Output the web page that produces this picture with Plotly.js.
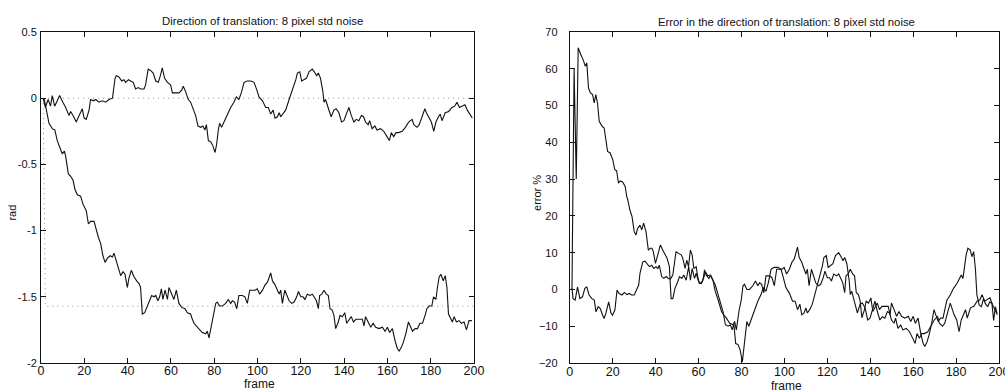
<!DOCTYPE html>
<html>
<head>
<meta charset="utf-8">
<script src="https://cdn.plot.ly/plotly-3.0.1.min.js"></script>
<style>
  html, body { margin: 0; padding: 0; background: #fff; }
  #chart { width: 1005px; height: 390px; }
</style>
</head>
<body>
<div id="chart"></div>
<script>
// Estimated direction of translation (rad) per frame: [frame, value]
const dirFirst = [[1,0],[2,-0.07],[3.3,-0.01],[4.4,-0.06],[5.2,0.02],[6.3,-0.06],[7.5,-0.02],[8.6,0.02],[10.1,-0.03],[11.4,-0.07],[12.9,-0.13],[13.7,-0.10],[14.8,-0.13],[16.3,-0.18],[17.6,-0.13],[18.3,-0.10],[19.1,-0.08],[19.9,-0.15],[20.9,-0.16],[22.2,-0.09],[22.9,-0.01],[24.2,-0.02],[25.3,-0.01],[26.8,-0.03],[28.3,-0.02],[29.9,-0.03],[31.4,-0.01],[33,0.00],[34.2,0.15],[34.8,0.17],[36,0.16],[37.3,0.13],[38.3,0.14],[39.1,0.12],[40.4,0.14],[41.4,0.13],[42.6,0.12],[43.7,0.07],[44.9,0.08],[46,0.07],[47.6,0.07],[48.3,0.10],[49.5,0.22],[50.6,0.21],[51.8,0.19],[53,0.13],[54.2,0.12],[55.3,0.18],[56,0.23],[57.1,0.15],[58.4,0.12],[59.9,0.10],[60.7,0.04],[62.2,0.04],[63.7,0.04],[65,0.06],[65.7,0.09],[66.8,0.05],[68,-0.01],[69.1,-0.03],[70.4,-0.09],[71.4,-0.13],[72.5,-0.21],[73.8,-0.22],[74.8,-0.21],[75.7,-0.24],[76.4,-0.20],[77.3,-0.32],[78.4,-0.33],[79.4,-0.36],[80.4,-0.41],[81.1,-0.35],[81.9,-0.24],[82.5,-0.19],[83.4,-0.22],[84.5,-0.18],[86,-0.12],[87.6,-0.07],[89.1,-0.03],[90.2,0.01],[91.4,-0.01],[92.5,0.04],[93.8,0.12],[95.3,0.13],[96.9,0.13],[98.4,0.12],[99.5,0.07],[100.7,0.01],[102.3,-0.02],[103.8,-0.07],[105,-0.07],[106.1,-0.12],[107.2,-0.09],[108.1,-0.15],[109.2,-0.14],[110,-0.11],[110.7,-0.14],[111.8,-0.12],[113,-0.09],[114.6,-0.01],[116.1,0.06],[117.7,0.14],[118.4,0.19],[119.5,0.20],[120.4,0.13],[121.5,0.14],[122.6,0.15],[123.8,0.20],[125.3,0.22],[126.6,0.19],[127.3,0.17],[128.1,0.19],[129.1,0.15],[130.2,0.05],[130.7,-0.03],[131.4,-0.01],[132.2,-0.05],[132.9,-0.09],[134,-0.14],[135.3,-0.09],[136.3,-0.08],[137.6,-0.11],[138.8,-0.18],[139.9,-0.17],[141.1,-0.11],[142.2,-0.07],[143.3,-0.13],[144.5,-0.18],[145.6,-0.16],[146.8,-0.17],[148,-0.13],[149,-0.14],[149.9,-0.18],[151.1,-0.20],[151.8,-0.17],[152.9,-0.23],[154.2,-0.21],[155.2,-0.24],[156.8,-0.23],[158.3,-0.25],[159.8,-0.29],[160.9,-0.32],[161.8,-0.26],[162.9,-0.29],[164,-0.26],[165.2,-0.26],[166.8,-0.25],[168.3,-0.22],[169.8,-0.18],[171.4,-0.16],[172.2,-0.20],[173.7,-0.22],[174.7,-0.20],[176,-0.14],[177.3,-0.08],[178,-0.11],[179.1,-0.15],[180.3,-0.18],[181.4,-0.25],[182.4,-0.18],[183.6,-0.14],[184.4,-0.12],[185.2,-0.17],[186.7,-0.11],[188.3,-0.10],[189.8,-0.07],[191.1,-0.06],[192.1,-0.03],[193.3,-0.07],[194.5,-0.06],[195.8,-0.05],[196.9,-0.09],[198,-0.12],[199.2,-0.15]];

const dirSecond = [[1.4,0],[2.6,-0.11],[3.7,-0.19],[5.2,-0.23],[6.4,-0.24],[7.5,-0.32],[8.6,-0.37],[9.8,-0.42],[10.8,-0.40],[11.4,-0.44],[12.6,-0.57],[13.7,-0.59],[14.8,-0.62],[15.7,-0.69],[16.8,-0.73],[18.3,-0.74],[19.4,-0.80],[20.9,-0.85],[21.9,-0.95],[22.9,-0.93],[24.5,-0.93],[25.3,-0.98],[26.5,-1.05],[27.6,-1.10],[28.6,-1.19],[29.6,-1.24],[30.6,-1.21],[31.9,-1.19],[33,-1.20],[33.7,-1.17],[34.5,-1.21],[35.7,-1.28],[36.8,-1.34],[37.9,-1.31],[38.8,-1.33],[39.9,-1.43],[40.6,-1.36],[41.7,-1.30],[43,-1.35],[44.2,-1.38],[45.3,-1.40],[46,-1.43],[46.8,-1.63],[47.9,-1.62],[49.1,-1.57],[50.2,-1.52],[51.1,-1.49],[52.2,-1.50],[53,-1.49],[54,-1.53],[54.8,-1.50],[55.6,-1.44],[56.3,-1.52],[57.3,-1.45],[58.4,-1.52],[59.1,-1.43],[60.4,-1.48],[61.4,-1.52],[62.5,-1.45],[63.7,-1.55],[65,-1.58],[66.5,-1.59],[67.6,-1.62],[69.1,-1.63],[69.9,-1.67],[70.7,-1.70],[71.7,-1.72],[73,-1.74],[74.5,-1.77],[76.1,-1.78],[76.8,-1.76],[77.6,-1.81],[78.8,-1.70],[79.9,-1.63],[80.7,-1.55],[81.4,-1.54],[82.5,-1.57],[83.7,-1.57],[85.3,-1.55],[86.5,-1.52],[87.6,-1.55],[88.4,-1.53],[89.4,-1.54],[90.4,-1.59],[91.4,-1.49],[93,-1.49],[94.2,-1.50],[95.3,-1.55],[96.4,-1.45],[97.6,-1.45],[98.9,-1.45],[99.9,-1.44],[101,-1.48],[102.3,-1.45],[103.5,-1.41],[104.6,-1.39],[105.3,-1.36],[106.1,-1.32],[106.9,-1.38],[108.1,-1.41],[109.2,-1.45],[110,-1.48],[110.7,-1.45],[111.5,-1.55],[112.6,-1.45],[113.5,-1.49],[114.6,-1.53],[115.8,-1.55],[116.9,-1.54],[118.1,-1.50],[118.9,-1.46],[120,-1.50],[121,-1.50],[121.9,-1.52],[123,-1.48],[124.3,-1.49],[125.3,-1.48],[126.1,-1.50],[127.2,-1.53],[128.1,-1.59],[128.7,-1.49],[129.7,-1.48],[130.7,-1.45],[131.8,-1.48],[132.7,-1.49],[133.5,-1.59],[134.5,-1.60],[135.3,-1.64],[136.1,-1.74],[137.3,-1.69],[138.1,-1.64],[139.2,-1.65],[140.3,-1.62],[141.2,-1.70],[142.2,-1.68],[143.3,-1.65],[144.3,-1.69],[145.4,-1.67],[146.8,-1.67],[148.4,-1.67],[149.2,-1.72],[149.9,-1.65],[151.1,-1.69],[152.3,-1.73],[153.4,-1.70],[154.6,-1.73],[156.1,-1.74],[157.7,-1.73],[158.9,-1.76],[160,-1.73],[161,-1.77],[162.3,-1.74],[163.5,-1.83],[164.6,-1.89],[165.4,-1.91],[166.5,-1.88],[167.4,-1.84],[168.5,-1.78],[169.7,-1.69],[170.8,-1.73],[171.6,-1.76],[172.8,-1.74],[173.9,-1.74],[175,-1.70],[176.2,-1.70],[177.4,-1.64],[178.2,-1.59],[179.3,-1.57],[180.5,-1.57],[181.3,-1.50],[182.4,-1.52],[183.1,-1.43],[183.9,-1.35],[184.7,-1.33],[185.8,-1.38],[186.7,-1.34],[187.5,-1.43],[188.2,-1.63],[189.3,-1.67],[190,-1.69],[190.8,-1.65],[191.9,-1.69],[193.1,-1.68],[194.2,-1.70],[195.4,-1.69],[196.5,-1.75],[197.7,-1.68],[199,-1.68]];

// True directions (dotted references)
const trueFirst = [[1,0],[200,0]];
const trueSecond = [[1,0],[2,-1.5708],[200,-1.5708]];

// Error in the direction of translation (%) per frame: [frame, value]
const errFirst = [[1,0.3],[1.5,-2.5],[2.5,-2.9],[3.6,0.7],[4.7,-2.5],[5.9,-2],[7,0.3],[7.9,0.7],[9,-1.5],[10.3,-2.5],[11.4,-2.9],[12.2,-6.1],[13.2,-4.7],[14.2,-5.2],[15.3,-7],[16,-7.9],[16.8,-6.5],[18.1,-3.4],[19.2,-6.5],[19.9,-7],[21,-5.6],[22,-0.2],[23,-1.1],[24.3,-1.5],[25.4,-0.8],[26.6,-1.4],[27.7,-1.1],[28.8,-1.5],[30,-1.5],[31.2,-0.2],[32.1,1.2],[32.7,4.4],[34,7.5],[35,7.7],[36,7.1],[37.1,6.2],[38.2,6.6],[39.1,5.7],[40.2,6.2],[41,5.7],[41.7,6.6],[42.8,3.5],[43.8,3],[44.9,3.5],[45.9,3],[46.9,2.8],[48,3.9],[48.8,7.7],[49.5,10.3],[50.6,9.8],[51.9,9.4],[52.6,8.6],[53.7,5.7],[54.5,8],[55.3,6.2],[56.2,10.7],[57,9.4],[57.8,5.7],[58.9,6.2],[59.6,3.5],[60.4,1.6],[61.2,1.6],[62,2.5],[62.8,5.3],[63.5,3.9],[64.8,3],[65.6,3.9],[66.7,2.5],[67.8,1.2],[69.1,-1.4],[70.4,-4],[71.4,-6],[72.5,-9.6],[73.8,-10],[74.8,-9.6],[75.7,-11],[76.4,-9.2],[77.3,-14.7],[78.4,-15],[79.4,-16.5],[80.4,-19.7],[81.1,-16],[81.9,-11],[82.5,-8.7],[83.4,-10],[84.5,-8.3],[86,-5.5],[87.6,-3.2],[89.1,-1.4],[90.2,0.5],[91.4,-0.5],[92.5,1.8],[93.8,5.5],[95.3,6],[96.9,6],[98.4,5.5],[99.5,3.2],[100.7,0.5],[102.3,-1],[103.8,-3.2],[105,-3.2],[106.1,-5.5],[107.2,-4],[108.1,-6.9],[109.2,-6.4],[110,-5],[110.7,-6.4],[111.8,-5.5],[113,-4],[114.6,-0.5],[116.1,2.8],[117.7,6.4],[118.4,8.7],[119.5,9.2],[120.4,6],[121.5,6.4],[122.6,7],[123.8,9.2],[125.3,10],[126.6,8.7],[127.3,7.8],[128.1,8.7],[129.1,7],[130.2,2.3],[130.7,-1.4],[131.4,-0.5],[132.2,-2.3],[132.9,-4],[134,-6.4],[135.3,-4],[136.3,-3.7],[137.6,-5],[138.8,-8.3],[139.9,-7.8],[141.1,-5],[142.2,-3.2],[143.3,-6],[144.5,-8.3],[145.6,-7.4],[146.8,-7.8],[148,-6],[149,-6.4],[149.9,-8.3],[151.1,-9.2],[151.8,-7.8],[152.9,-10.6],[154.2,-9.7],[155.2,-11],[156.8,-10.6],[158.3,-11.5],[159.8,-13.3],[160.9,-14.7],[161.8,-12],[162.9,-13.3],[164,-12],[165.2,-12],[166.8,-11.5],[168.3,-10],[169.8,-8.3],[171.4,-7.4],[172.2,-9.2],[173.7,-10],[174.7,-9.2],[176,-6.4],[177.3,-3.7],[178,-5],[179.1,-6.9],[180.3,-8.3],[181.4,-11.5],[182.4,-8.3],[183.6,-6.4],[184.4,-5.5],[185.2,-7.8],[186.7,-5],[188.3,-4.6],[189.8,-3.2],[191.1,-2.8],[192.1,-1.4],[193.3,-3.2],[194.5,-2.8],[195.8,-2.3],[196.9,-4],[198,-5.5],[199.2,-6.9]];

const errSecond = [[1,0],[2,60],[3,30],[3.9,65.7],[5.1,63.9],[6.2,62.5],[7.2,60.7],[7.9,61.6],[8.7,54.8],[9.5,53.5],[10.6,53],[11.4,50.7],[12.1,53],[12.9,50.7],[13.7,45.7],[15,44.4],[16,43.9],[16.8,40.3],[17.6,37.5],[18.8,37.1],[20,35.3],[21,32.5],[21.8,32.3],[22.7,28.9],[23.5,29.5],[24.6,29.2],[25.8,28],[26.5,25.3],[27,24.4],[28,21.6],[29,19.8],[30,15.7],[30.8,14.8],[31.6,16.6],[32.7,17.5],[33.5,16.2],[34.4,18],[35.5,15.7],[36.6,10.7],[37.5,11.2],[38.3,11.2],[38.9,10.3],[39.9,7.1],[41,9.4],[42.2,12.1],[43.3,10.7],[44.4,9.5],[45.3,8.5],[46.4,6.2],[47.2,-2.5],[48,-2.5],[49,0.3],[50.3,2.1],[51.1,3.5],[52.2,3],[53.1,3.9],[54.2,2.5],[55.4,6.2],[56.2,2.5],[57,5.7],[58.1,3],[58.9,4.4],[60,2.1],[61.2,1.6],[62.3,3],[63.2,4.8],[64.3,3.7],[65.4,3.9],[66.7,2.5],[67.8,-0.6],[69.1,-2.8],[69.9,-4.6],[70.7,-6],[71.7,-6.9],[73,-7.8],[74.5,-9.2],[76.1,-9.6],[76.8,-8.7],[77.6,-11],[78.8,-6],[79.9,-2.8],[80.7,1],[81.4,1.4],[82.5,0],[83.7,0],[85.3,1],[86.5,2.3],[87.6,1],[88.4,1.8],[89.4,1.4],[90.4,-0.9],[91.4,3.7],[93,3.7],[94.2,3.2],[95.3,1],[96.4,5.5],[97.6,5.5],[98.9,5.5],[99.9,6],[101,4.2],[102.3,5.5],[103.5,7.4],[104.6,8.3],[105.3,9.7],[106.1,11.5],[106.9,8.7],[108.1,7.4],[109.2,5.5],[110,4.2],[110.7,5.5],[111.5,1],[112.6,5.5],[113.5,3.7],[114.6,1.8],[115.8,1],[116.9,1.4],[118.1,3.2],[118.9,5],[120,3.2],[121,3.2],[121.9,2.3],[123,4.2],[124.3,3.7],[125.3,4.2],[126.1,3.2],[127.2,1.8],[128.1,-0.9],[128.7,3.7],[129.7,4.2],[130.7,5.5],[131.8,4.2],[132.7,3.7],[133.5,-0.9],[134.5,-1.4],[135.3,-3.2],[136.1,-7.7],[137.3,-5.5],[138.1,-3.2],[139.2,-3.7],[140.3,-2.3],[141.2,-6],[142.2,-5],[143.3,-3.7],[144.3,-5.5],[145.4,-4.6],[146.8,-4.6],[148.4,-4.6],[149.2,-6.9],[149.9,-3.7],[151.1,-5.5],[152.3,-7.3],[153.4,-6],[154.6,-7.3],[156.1,-7.8],[157.7,-7.3],[158.9,-8.7],[160,-7.3],[161,-9.2],[162.3,-7.8],[163.5,-11.9],[164.6,-14.6],[165.4,-15.5],[166.5,-14.2],[167.4,-12.4],[168.5,-9.6],[169.7,-5.5],[170.8,-7.3],[171.6,-8.7],[172.8,-7.8],[173.9,-7.8],[175.7,-2.9],[177.3,-1.5],[178.8,0.3],[180.4,1.6],[181.6,3],[182.4,3.9],[183.2,3],[184,6.6],[184.7,9.4],[185.5,11.2],[186.6,10.7],[187.4,8.9],[188.2,10.3],[189,5.7],[189.7,-1.5],[190.8,-4.3],[191.8,-4.7],[192.8,-2.5],[193.6,-3.8],[194.7,-4.7],[195.7,-3.4],[196.7,-3.8],[197.5,-8.4],[198.3,-4.7],[199.1,-6.5]];

const frameTicks = [0, 20, 40, 60, 80, 100, 120, 140, 160, 180, 200];
const radTicks = [-2, -1.5, -1, -0.5, 0, 0.5];
const radTickText = ['-2', '-1.5', '-1', '-0.5', '0', '0.5'];
const errTicks = [-20, -10, 0, 10, 20, 30, 40, 50, 60, 70];

const FONT = 'Liberation Sans, Arial, Helvetica, sans-serif';
const INK = '#111';

function solid(pairs, xa, ya) {
  return {
    x: pairs.map(p => p[0]), y: pairs.map(p => p[1]),
    xaxis: xa, yaxis: ya, type: 'scatter', mode: 'lines',
    line: { color: INK, width: 1.1 }, hoverinfo: 'skip', showlegend: false
  };
}
function dotted(pairs, xa, ya) {
  return {
    x: pairs.map(p => p[0]), y: pairs.map(p => p[1]),
    xaxis: xa, yaxis: ya, type: 'scatter', mode: 'lines',
    line: { color: '#8a8a8a', width: 1, dash: '1px,4px' }, hoverinfo: 'skip', showlegend: false
  };
}

const data = [
  dotted(trueFirst, 'x', 'y'),
  dotted(trueSecond, 'x', 'y'),
  solid(dirFirst, 'x', 'y'),
  solid(dirSecond, 'x', 'y'),
  solid(errFirst, 'x2', 'y2'),
  solid(errSecond, 'x2', 'y2')
];

const axisBase = {
  showgrid: false, zeroline: false, showline: true, mirror: 'ticks',
  linecolor: INK, linewidth: 1, ticks: 'inside', ticklen: 5, tickcolor: INK,
  tickfont: { family: FONT, size: 11, color: INK }, ticklabeloverflow: 'allow'
};

const layout = {
  width: 1005, height: 390,
  margin: { l: 41, r: 6, t: 32, b: 27 },
  paper_bgcolor: '#fff', plot_bgcolor: '#fff',
  font: { family: FONT, color: INK },
  xaxis: Object.assign({}, axisBase, {
    domain: [0, 0.452], range: [0, 200], tickvals: frameTicks,
    tickfont: { family: FONT, size: 12.5, color: INK }, anchor: 'y', ticklabelstandoff: -4
  }),
  yaxis: Object.assign({}, axisBase, {
    domain: [0, 1], range: [-2, 0.5], tickvals: radTicks, ticktext: radTickText,
    anchor: 'x', ticklabelstandoff: 1
  }),
  xaxis2: Object.assign({}, axisBase, {
    domain: [0.552, 1], range: [0, 200], tickvals: frameTicks,
    tickfont: { family: FONT, size: 12.5, color: INK }, anchor: 'y2', ticklabelstandoff: -3
  }),
  yaxis2: Object.assign({}, axisBase, {
    domain: [0, 1], range: [-20, 70], tickvals: errTicks,
    anchor: 'x2', ticklabelstandoff: 9
  }),
  annotations: [
    { text: 'Direction of translation: 8 pixel std noise', xref: 'paper', yref: 'paper',
      x: 0.2307, y: 1.033, xanchor: 'center', yanchor: 'middle', showarrow: false,
      font: { family: FONT, size: 11.4, color: INK } },
    { text: 'Error in the direction of translation: 8 pixel std noise', xref: 'paper', yref: 'paper',
      x: 0.7787, y: 1.030, xanchor: 'center', yanchor: 'middle', showarrow: false,
      font: { family: FONT, size: 11.3, color: INK } },
    { text: 'frame', xref: 'paper', yref: 'paper', x: 0.2286, y: -0.063,
      xanchor: 'center', yanchor: 'middle', showarrow: false,
      font: { family: FONT, size: 12, color: INK } },
    { text: 'frame', xref: 'paper', yref: 'paper', x: 0.7777, y: -0.069,
      xanchor: 'center', yanchor: 'middle', showarrow: false,
      font: { family: FONT, size: 12, color: INK } },
    { text: 'rad', xref: 'paper', yref: 'paper', x: -0.0297, y: 0.453,
      xanchor: 'center', yanchor: 'middle', textangle: -90, showarrow: false,
      font: { family: FONT, size: 11, color: INK } },
    { text: 'error %', xref: 'paper', yref: 'paper', x: 0.5177, y: 0.5136,
      xanchor: 'center', yanchor: 'middle', textangle: -90, showarrow: false,
      font: { family: FONT, size: 11, color: INK } }
  ]
};

Plotly.newPlot('chart', data, layout, { staticPlot: true, displayModeBar: false });
</script>
</body>
</html>
